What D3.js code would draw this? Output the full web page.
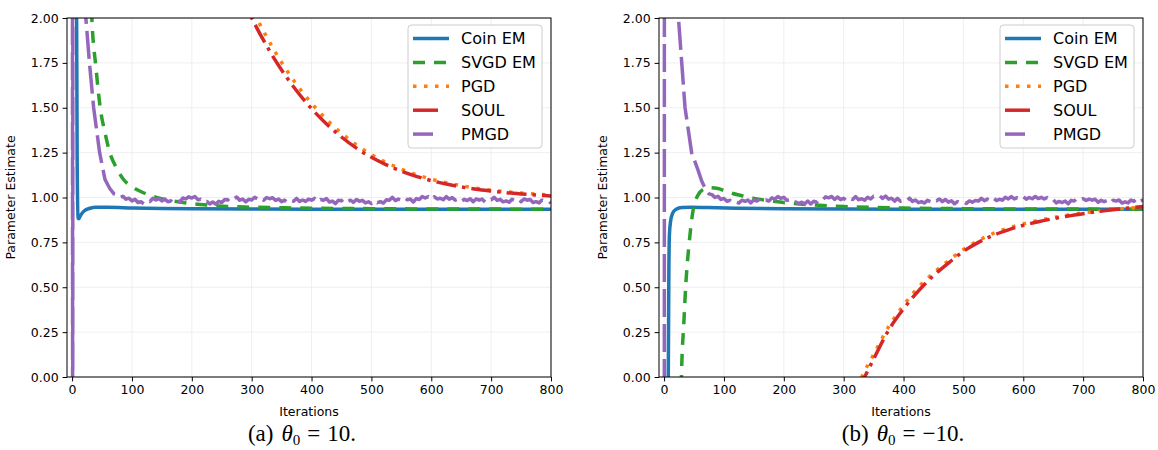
<!DOCTYPE html>
<html><head><meta charset="utf-8">
<script src="https://cdn.jsdelivr.net/npm/d3@7"></script>
<style>body{margin:0;background:#fff} svg{display:block}</style>
</head><body><svg id="c" width="1158" height="450"></svg>
<script>
// ---------- data ----------
const iterTicks = [0, 100, 200, 300, 400, 500, 600, 700, 800];
const yTicks = [0.00, 0.25, 0.50, 0.75, 1.00, 1.25, 1.50, 1.75, 2.00];
const seriesNames = ["Coin EM", "SVGD EM", "PGD", "SOUL", "PMGD"];
const captionsText = ["(a)", "(b)"];
const captionTheta = ["10.", "\u221210."];

// Panel (a): theta0 = 10
const coinA_it  = [0, 5, 7, 8.5, 10, 11, 12, 15, 20, 30, 40, 60, 100, 150, 200, 300, 400, 600, 800];
const coinA_val = [10, 6, 2.5, 1.2, 0.885, 0.882, 0.886, 0.905, 0.925, 0.94, 0.945, 0.945, 0.942, 0.939, 0.937, 0.936, 0.935, 0.935, 0.934];
const svgdA_it  = [0, 10, 20, 28, 33, 40, 47, 55, 63, 75, 86, 100, 120, 141, 160, 180, 200, 230, 260, 300, 350, 400, 500, 600, 800];
const svgdA_val = [10, 6.2, 3.6, 2.5, 2.0, 1.72, 1.5, 1.36, 1.25, 1.16, 1.1, 1.06, 1.025, 1.0, 0.986, 0.975, 0.966, 0.957, 0.95, 0.946, 0.943, 0.94, 0.938, 0.936, 0.935];
const pgdA_it   = [290, 300, 325, 350, 375, 400, 425, 450, 475, 500, 525, 550, 575, 600, 625, 650, 675, 700, 725, 750, 775, 800];
const pgdA_val  = [2.14, 2.06, 1.895, 1.752, 1.63, 1.525, 1.435, 1.358, 1.293, 1.239, 1.195, 1.158, 1.127, 1.102, 1.082, 1.066, 1.052, 1.041, 1.032, 1.025, 1.019, 1.014];
const soulA_it  = [280, 300, 325, 350, 375, 400, 425, 450, 475, 500, 525, 550, 575, 600, 625, 650, 675, 700, 725, 750, 775, 800];
const soulA_val = [2.14, 2.0, 1.845, 1.71, 1.595, 1.495, 1.41, 1.337, 1.275, 1.224, 1.182, 1.147, 1.118, 1.094, 1.075, 1.059, 1.046, 1.036, 1.027, 1.02, 1.014, 1.009];
const pmgdA_headIt  = [0, 1, 2, 10, 18, 23, 29, 36, 46, 55, 63, 70];
const pmgdA_headVal = [10, -2, 12, 4.5, 2.5, 2.0, 1.75, 1.5, 1.25, 1.1, 1.05, 1.02];
const pmgdA_tailStart = 75;
const pmgdA_tail = [
 1.016,1.000,1.007,0.991,0.996,0.981,0.990,0.972,0.976,0.965,
 0.982,0.978,0.996,0.986,0.995,0.981,0.991,0.976,0.982,0.967,
 0.980,0.976,0.997,0.992,1.004,0.997,1.006,0.988,0.990,0.974,
 0.978,0.964,0.975,0.963,0.979,0.972,0.989,0.986,1.003,0.993,
 1.003,0.985,0.991,0.976,0.990,0.986,1.001,0.991,1.000,0.985,
 1.000,0.993,0.999,0.984,0.991,0.977,0.985,0.971,0.983,0.979,
 0.995,0.978,0.986,0.978,0.991,0.985,0.995,0.976,0.989,0.985,
 0.994,0.975,0.980,0.966,0.985,0.981,0.994,0.978,0.985,0.973,
 0.989,0.979,0.984,0.970,0.976,0.966,0.983,0.971,0.977,0.969,
 0.987,0.985,1.001,0.983,0.991,0.986,1.000,0.987,0.992,0.975,
 0.994,0.989,1.005,0.997,1.005,0.989,1.004,0.992,0.996,0.988,
 1.005,0.991,0.999,0.985,0.991,0.976,0.990,0.983,0.993,0.977,
 0.992,0.985,0.991,0.974,0.989,0.987,1.001,0.984,0.990,0.976,
 0.981,0.974,0.990,0.983,0.993,0.977,0.992,0.985,0.989,0.972,
 0.977,0.970,0.986,0.979,0.983,0.968];

// Panel (b): theta0 = -10
const coinB_it  = [0, 4, 7, 8, 9, 11, 14, 20, 30, 45, 70, 120, 200, 400, 800];
const coinB_val = [-10, -3, 0, 0.6, 0.8, 0.87, 0.91, 0.935, 0.944, 0.946, 0.944, 0.94, 0.937, 0.935, 0.934];
const svgdB_it  = [0, 10, 20, 25, 29, 33, 36, 42, 49, 56, 65, 75, 90, 107, 130, 150, 175, 200, 250, 300, 350, 400, 500, 600, 800];
const svgdB_val = [-10, -6, -2.5, -1.0, 0, 0.3, 0.5, 0.75, 0.94, 1.01, 1.045, 1.055, 1.05, 1.03, 1.01, 0.995, 0.982, 0.972, 0.958, 0.95, 0.945, 0.941, 0.938, 0.936, 0.935];
const pgdB_it   = [322, 333, 350, 375, 400, 425, 450, 475, 500, 525, 550, 575, 600, 625, 650, 675, 700, 725, 750, 775, 800];
const pgdB_val  = [-0.06, 0.02, 0.125, 0.28, 0.40, 0.50, 0.58, 0.648, 0.71, 0.76, 0.80, 0.83, 0.853, 0.872, 0.888, 0.902, 0.914, 0.924, 0.933, 0.94, 0.946];
const soulB_it  = [325, 335, 350, 375, 400, 425, 450, 475, 500, 525, 550, 575, 600, 625, 650, 675, 700, 725, 750, 775, 800];
const soulB_val = [-0.07, 0.0, 0.10, 0.26, 0.38, 0.48, 0.565, 0.635, 0.70, 0.75, 0.79, 0.82, 0.845, 0.865, 0.882, 0.897, 0.91, 0.922, 0.932, 0.941, 0.95];
const pmgdB_headIt  = [0, 1, 10, 18, 24, 29.5, 35, 46, 57, 63, 70, 75];
const pmgdB_headVal = [-10, 15, 4.5, 2.6, 2.0, 1.75, 1.5, 1.25, 1.15, 1.09, 1.04, 1.02];
const pmgdB_tailStart = 80;
const pmgdB_tail = [
 1.016,1.000,1.007,0.989,0.995,0.979,0.984,0.971,0.977,0.969,
 0.985,0.979,0.986,0.970,0.987,0.980,0.992,0.979,0.986,0.980,
 0.998,0.991,1.005,0.995,1.001,0.984,0.987,0.971,0.975,0.966,
 0.974,0.965,0.980,0.964,0.979,0.973,0.991,0.987,1.004,0.998,
 1.006,0.989,1.003,0.988,0.996,0.981,0.995,0.989,1.005,0.988,
 0.993,0.985,1.001,0.992,1.007,1.002,1.011,0.995,1.008,0.991,
 0.996,0.980,0.995,0.979,0.985,0.980,0.996,0.978,0.986,0.971,
 0.977,0.969,0.984,0.977,0.990,0.982,0.992,0.977,0.989,0.974,
 0.982,0.965,0.977,0.969,0.976,0.967,0.981,0.974,0.983,0.980,
 0.995,0.982,0.991,0.983,0.998,0.983,0.990,0.985,1.001,0.992,
 1.005,0.992,0.999,0.992,1.005,0.991,1.000,0.993,1.006,0.994,
 1.001,0.992,1.000,0.985,0.988,0.970,0.978,0.972,0.980,0.965,
 0.984,0.980,0.996,0.987,0.993,0.984,0.991,0.985,0.990,0.974,
 0.984,0.977,0.984,0.969,0.985,0.980,0.986,0.969,0.976,0.970,
 0.986,0.979,0.995,0.980,0.987];

// ---------- styles ----------
const colors = {"Coin EM":"#1f77b4","SVGD EM":"#2ca02c","PGD":"#ff7f0e","SOUL":"#d62728","PMGD":"#9467bd"};
const dashes = {"Coin EM":null,"SVGD EM":"12,9","PGD":"3.5,7.5","SOUL":"20,6,3.5,6","PMGD":"28,7"};
const legendDashes = {"Coin EM":null,"SVGD EM":"12,9","PGD":"3.5,7.5","SOUL":"25,11","PMGD":"20,16"};
const LW = 3.5;

function zip(a, b){ return a.map((v,i)=>[v, b[i]]); }
function pmgd(headIt, headVal, start, tail){
  const its = d3.range(tail.length).map(i => start + 5*i);
  return zip(headIt, headVal).concat(zip(its, tail));
}

const panels = [
  {left:67, right:551, capX:302, capIdx:0, series:{
    "Coin EM": zip(coinA_it, coinA_val), "SVGD EM": zip(svgdA_it, svgdA_val),
    "PGD": zip(pgdA_it, pgdA_val), "SOUL": zip(soulA_it, soulA_val),
    "PMGD": pmgd(pmgdA_headIt, pmgdA_headVal, pmgdA_tailStart, pmgdA_tail)}},
  {left:659, right:1143, capX:903, capIdx:1, series:{
    "Coin EM": zip(coinB_it, coinB_val), "SVGD EM": zip(svgdB_it, svgdB_val),
    "PGD": zip(pgdB_it, pgdB_val), "SOUL": zip(soulB_it, soulB_val),
    "PMGD": pmgd(pmgdB_headIt, pmgdB_headVal, pmgdB_tailStart, pmgdB_tail)}}
];
const TOP = 18, BOTTOM = 377;
const svg = d3.select("#c");
const tickFont = "DejaVu Sans, sans-serif";

panels.forEach((p, pi) => {
  const x = d3.scaleLinear().domain([-8.5, 800]).range([p.left, p.right]);
  const y = d3.scaleLinear().domain([0, 2]).range([BOTTOM, TOP]);
  const g = svg.append("g");

  // grid
  g.append("g").selectAll("line").data(iterTicks).join("line")
    .attr("x1", d=>x(d)).attr("x2", d=>x(d)).attr("y1", TOP).attr("y2", BOTTOM)
    .attr("stroke", "#ebebeb").attr("stroke-width", 0.8);
  g.append("g").selectAll("line").data(yTicks).join("line")
    .attr("x1", p.left).attr("x2", p.right).attr("y1", d=>y(d)).attr("y2", d=>y(d))
    .attr("stroke", "#ebebeb").attr("stroke-width", 0.8);

  // clip
  const cid = "clip" + pi;
  svg.append("defs").append("clipPath").attr("id", cid).append("rect")
    .attr("x", p.left).attr("y", TOP).attr("width", p.right - p.left).attr("height", BOTTOM - TOP);

  const lines = g.append("g").attr("clip-path", `url(#${cid})`);
  seriesNames.forEach(name => {
    const curve = name === "PMGD" ? d3.curveLinear : d3.curveMonotoneX;
    const line = d3.line().x(d=>x(d[0])).y(d=>y(d[1])).curve(curve);
    lines.append("path").datum(p.series[name])
      .attr("d", line).attr("fill", "none")
      .attr("stroke", colors[name]).attr("stroke-width", LW)
      .attr("stroke-dasharray", dashes[name])
      .attr("stroke-linejoin", "round");
  });

  // axes
  const xa = g.append("g").attr("transform", `translate(0,${BOTTOM})`)
    .call(d3.axisBottom(x).tickValues(iterTicks).tickSize(4.4).tickPadding(4).tickSizeOuter(0));
  const ya = g.append("g").attr("transform", `translate(${p.left},0)`)
    .call(d3.axisLeft(y).tickValues(yTicks).tickFormat(d3.format(".2f")).tickSize(4.4).tickPadding(4).tickSizeOuter(0));
  [xa, ya].forEach(a => {
    a.select(".domain").remove();
    a.selectAll("text").attr("font-family", tickFont).attr("font-size", 12.5).attr("fill", "#000");
    a.selectAll("line").attr("stroke", "#000").attr("stroke-width", 1);
  });

  // spines
  g.append("rect").attr("x", p.left).attr("y", TOP).attr("width", p.right - p.left).attr("height", BOTTOM - TOP)
    .attr("fill", "none").attr("stroke", "#000").attr("stroke-width", 1);

  // labels
  g.append("text").attr("x", (p.left + p.right)/2).attr("y", 416).attr("text-anchor", "middle")
    .attr("font-family", tickFont).attr("font-size", 12.5).text("Iterations");
  g.append("text").attr("transform", `translate(${p.left - 52},${(TOP+BOTTOM)/2}) rotate(-90)`)
    .attr("text-anchor", "middle").attr("font-family", tickFont).attr("font-size", 12.5).text("Parameter Estimate");

  // legend
  const lx = p.right - 143, ly = 25;
  const lg = g.append("g");
  lg.append("rect").attr("x", lx).attr("y", ly).attr("width", 134).attr("height", 123).attr("rx", 3.5)
    .attr("fill", "#fff").attr("fill-opacity", 0.85).attr("stroke", "#cccccc").attr("stroke-width", 1);
  seriesNames.forEach((name, i) => {
    const yy = 38.5 + i * 23.9;
    lg.append("line").attr("x1", lx + 5).attr("x2", lx + 41).attr("y1", yy).attr("y2", yy)
      .attr("stroke", colors[name]).attr("stroke-width", LW).attr("stroke-dasharray", legendDashes[name]);
    lg.append("text").attr("x", lx + 53).attr("y", yy + 5.8).attr("font-family", tickFont)
      .attr("font-size", 16).attr("fill", "#000").text(name);
  });

  // caption
  const cap = svg.append("text").attr("x", p.capX).attr("y", 441).attr("text-anchor", "middle")
    .attr("font-family", "Liberation Serif, serif").attr("font-size", 23).attr("fill", "#000");
  cap.append("tspan").text(captionsText[p.capIdx]);
  cap.append("tspan").attr("dx", 8).attr("font-style", "italic").text("\u03b8");
  cap.append("tspan").attr("font-size", 15).attr("dy", 4).text("0");
  cap.append("tspan").attr("dy", -4).attr("dx", 7).text("=");
  cap.append("tspan").attr("dx", 7).text(captionTheta[p.capIdx]);
});
</script>
</body></html>
